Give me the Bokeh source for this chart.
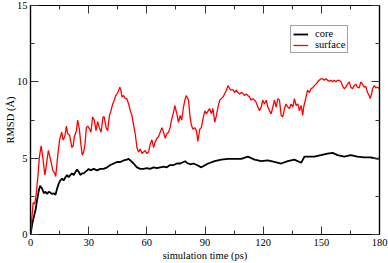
from bokeh.plotting import figure
from bokeh.models import (FixedTicker, LinearAxis, Legend, LegendItem, Range1d)
from bokeh.embed import file_html
from bokeh.resources import INLINE

# ---- data ----
t_core = [0, 0.9, 1.7, 2.6, 3.4, 4.3, 5.0, 6.0, 6.9, 7.7, 8.6, 9.4, 10.3, 11.1, 12.0, 12.9,
          13.7, 14.6, 15.4, 16.3, 17.2, 18.0, 18.9, 19.7, 20.6, 21.4, 22.3, 23.2, 24.0,
          24.9, 25.7, 26.6, 27.4, 28.3, 29.2, 30.0, 30.9, 32.6, 34.3, 36.0, 37.7, 39.5,
          41.2, 42.9, 44.6, 46.3, 48.0, 49.7, 50.6, 51.5, 53.2, 54.9, 56.6, 58.3, 60.0,
          61.7, 63.5, 65.2, 66.9, 68.6, 70.3, 72.0, 73.8, 75.5, 77.2, 78.9, 79.8, 80.6,
          82.3, 84.0, 85.8, 88.1, 91.6, 95.0, 98.4, 101.9, 105.3, 108.7, 112.1, 115.6,
          119.0, 122.4, 125.8, 129.3, 132.7, 136.1, 139.6, 141.3, 142.9, 146.4, 149.8,
          153.2, 155.8, 158.4, 161.8, 165.2, 168.6, 172.1, 175.5, 179.0, 180.0]
rmsd_core = [0, 0.7, 1.15, 1.6, 2.25, 2.9, 3.2, 3.0, 2.7, 2.8, 2.65, 2.8, 2.75, 2.65, 2.7, 2.6,
             3.0, 3.35, 3.55, 3.65, 3.55, 3.75, 3.9, 3.75, 3.9, 4.0, 3.9, 4.1, 4.25,
             4.1, 3.9, 4.0, 4.0, 4.1, 4.2, 4.3, 4.2, 4.3, 4.2, 4.3, 4.3, 4.4,
             4.55, 4.65, 4.75, 4.75, 4.85, 4.9, 4.95, 4.85, 4.65, 4.4, 4.3, 4.3, 4.35,
             4.3, 4.4, 4.35, 4.4, 4.45, 4.4, 4.55, 4.55, 4.65, 4.65, 4.75, 4.8, 4.7,
             4.6, 4.65, 4.55, 4.4, 4.65, 4.8, 4.9, 4.95, 4.95, 4.95, 5.1, 4.9,
             4.8, 4.85, 4.75, 4.65, 4.8, 4.9, 4.7, 5.1, 5.1, 5.1, 5.2,
             5.3, 5.35, 5.2, 5.1, 5.2, 5.1, 5.05, 5.05, 4.95, 5.0]

t_surface = [0, 0.9, 1.4, 2.2, 3.0, 3.8, 4.6, 5.5, 6.5, 7.4, 8.0, 9.2, 10.0, 10.6, 11.5,
             12.5, 13.0, 14.0, 15.0, 16.1, 16.8, 17.7, 18.5, 19.2, 20.2, 21.3, 22.0, 22.6,
             23.7, 24.3, 25.2, 26.0, 26.7, 27.4, 28.1, 28.8, 29.5, 30.5, 31.2, 32.0, 32.9,
             33.8, 34.6, 35.5, 36.4, 37.4, 38.0, 39.0, 39.8, 40.7, 41.5, 42.4, 43.2, 44.0,
             45.0, 46.1, 46.6, 47.2, 48.0, 48.9, 49.7, 50.6, 51.5, 52.3, 53.2, 54.0, 54.9,
             55.7, 56.6, 57.5, 58.3, 59.2, 60.0, 60.9, 61.7, 62.6, 63.5, 64.3, 65.2, 66.0,
             66.9, 67.8, 68.6, 69.5, 70.3, 71.2, 72.0, 72.9, 73.8, 74.4, 75.5, 76.3, 77.2,
             78.0, 78.9, 79.8, 80.3, 81.5, 82.3, 83.0, 83.8, 84.7, 85.6, 86.3, 87.3, 88.1,
             89.0, 89.9, 90.7, 91.6, 92.4, 93.3, 94.1, 95.0, 95.9, 96.7, 97.6, 98.4, 99.3,
             100.1, 101.0, 101.9, 102.7, 103.6, 104.4, 105.3, 106.1, 107.0, 107.9, 108.7,
             109.6, 110.4, 111.3, 112.1, 113.0, 113.8, 114.7, 115.6, 116.4, 117.3, 118.1,
             119.0, 119.8, 120.7, 121.6, 122.4, 123.3, 124.1, 125.0, 125.8, 126.7, 127.6,
             128.4, 129.3, 130.1, 131.0, 131.8, 132.7, 133.6, 134.4, 135.3, 136.1, 137.0,
             137.9, 138.7, 139.6, 140.4, 140.9, 142.1, 142.9, 143.8, 144.7, 145.5, 146.4,
             147.2, 148.1, 148.9, 149.8, 150.7, 151.5, 152.4, 153.2, 154.1, 154.9, 155.8,
             156.6, 157.5, 158.4, 159.2, 160.1, 160.9, 161.8, 162.6, 163.5, 164.4, 165.2,
             166.1, 166.9, 167.8, 168.6, 169.5, 170.4, 171.2, 172.1, 172.9, 173.8, 174.7,
             175.2, 175.9, 176.4, 177.3, 178.1, 179.0, 180.0]
rmsd_surface = [0, 1.4, 2.1, 2.0, 2.7, 3.8, 5.1, 5.8, 4.9, 3.9, 4.4, 5.5, 5.1, 4.75, 4.2,
                4.0, 3.8, 5.1, 6.2, 6.7, 6.2, 6.4, 7.1, 6.6, 6.5, 5.7, 5.8, 6.4,
                6.8, 7.5, 6.9, 5.9, 5.2, 5.4, 5.9, 7.0, 7.1, 6.9, 6.7, 7.7, 7.5,
                6.8, 7.4, 7.0, 6.7, 7.7, 7.7, 7.0, 6.8, 7.8, 8.1, 8.55, 8.8, 9.1,
                9.3, 9.65, 9.45, 9.0, 9.1, 8.9, 8.9, 8.55, 8.1, 7.8, 7.15, 6.6, 5.7,
                5.4, 5.6, 5.3, 5.4, 5.5, 5.3, 5.4, 5.9, 6.2, 5.7, 6.05, 6.3, 6.4,
                6.7, 7.0, 6.7, 6.3, 6.6, 6.7, 7.0, 7.6, 8.0, 8.45, 7.9, 7.35, 7.8,
                7.5, 8.35, 8.9, 9.1, 8.8, 7.7, 7.15, 6.9, 7.0, 6.8, 6.1, 6.9, 7.0,
                7.6, 8.1, 7.9, 8.1, 8.25, 7.9, 8.25, 7.35, 7.8, 8.35, 8.8, 8.9, 9.0,
                9.2, 9.45, 9.75, 9.55, 9.45, 9.5, 9.3, 9.45, 9.3, 9.2, 9.3,
                9.25, 9.1, 9.2, 9.1, 9.0, 8.8, 8.9, 8.8, 8.65, 8.35, 8.1,
                8.35, 8.8, 8.55, 8.8, 8.35, 8.1, 7.9, 8.35, 8.8, 8.35, 8.9,
                8.8, 7.8, 7.7, 8.25, 8.55, 8.35, 8.25, 8.55, 8.35, 8.9, 8.45,
                8.55, 8.1, 8.45, 7.8, 8.35, 9.0, 9.45, 9.3, 9.55, 9.6, 9.75,
                9.85, 10.0, 10.1, 10.2, 10.2, 10.1, 10.2, 10.1, 10.05, 10.1, 10.0,
                10.1, 10.0, 10.1, 10.1, 10.0, 9.75, 9.55, 9.65, 9.85, 10.0, 9.65,
                9.55, 9.75, 9.85, 9.65, 9.6, 10.0, 9.85, 9.65, 9.7, 9.3, 9.1,
                8.9, 9.2, 9.55, 9.75, 9.6, 9.65, 9.55]

x_ticks = [0, 30, 60, 90, 120, 150, 180]
x_minor = [15, 45, 75, 105, 135, 165]
y_ticks = [0, 5, 10, 15]
y_minor = [2.5, 7.5, 12.5]

FONT = "Liberation Serif"

p = figure(width=388, height=263, output_backend="svg", toolbar_location=None,
           x_range=Range1d(0, 180), y_range=Range1d(0, 15),
           min_border_left=30, min_border_right=9, min_border_top=5, min_border_bottom=29,
           x_axis_label="simulation time (ps)", y_axis_label="RMSD (Å)")
p.grid.visible = False
p.outline_line_color = "black"
p.outline_line_width = 1.2
p.background_fill_color = "white"
p.border_fill_color = "white"

r_core = p.line(t_core, rmsd_core, line_color="black", line_width=1.8)
r_surf = p.line(t_surface, rmsd_surface, line_color="#ff0000", line_width=1.3)


def style_axis(ax, ticks, minor, show_labels, label_standoff=4, title_standoff=1):
    ax.ticker = FixedTicker(ticks=ticks, minor_ticks=minor)
    ax.axis_line_color = "black"
    ax.axis_line_width = 1.2
    ax.major_tick_in = 8
    ax.major_tick_out = 0
    ax.minor_tick_in = 4
    ax.minor_tick_out = 0
    ax.major_tick_line_color = "#333333"
    ax.minor_tick_line_color = "#333333"
    ax.major_tick_line_width = 1
    ax.minor_tick_line_width = 1
    ax.major_label_text_font = FONT
    ax.major_label_text_color = "black"
    ax.axis_label_text_font = FONT
    ax.axis_label_text_font_style = "normal"
    ax.axis_label_text_font_size = "10.5px"
    ax.axis_label_text_color = "black"
    if show_labels:
        ax.major_label_text_font_size = "10.5px"
        ax.major_label_standoff = label_standoff
        ax.axis_label_standoff = title_standoff
    else:
        ax.major_label_text_font_size = "0px"
        ax.major_label_standoff = 0
        ax.major_label_text_alpha = 0


style_axis(p.xaxis[0], x_ticks, x_minor, True, 4, 1)
style_axis(p.yaxis[0], y_ticks, y_minor, True, 3, -2)

top = LinearAxis()
style_axis(top, x_ticks, x_minor, False)
p.add_layout(top, "above")
right = LinearAxis()
style_axis(right, y_ticks, y_minor, False)
p.add_layout(right, "right")

legend = Legend(items=[LegendItem(label="core", renderers=[r_core]),
                       LegendItem(label="surface", renderers=[r_surf])],
                location=(260, 181))
legend.label_text_font = FONT
legend.label_text_font_size = "10.5px"
legend.label_text_color = "black"
legend.glyph_width = 15
legend.glyph_height = 10
legend.label_height = 10
legend.label_standoff = 7
legend.spacing = 0
legend.padding = 2
legend.margin = 0
legend.border_line_color = "#444444"
legend.border_line_width = 1
legend.background_fill_color = "white"
legend.background_fill_alpha = 1
p.add_layout(legend, "center")

open("out.html", "w").write(file_html(p, INLINE))
